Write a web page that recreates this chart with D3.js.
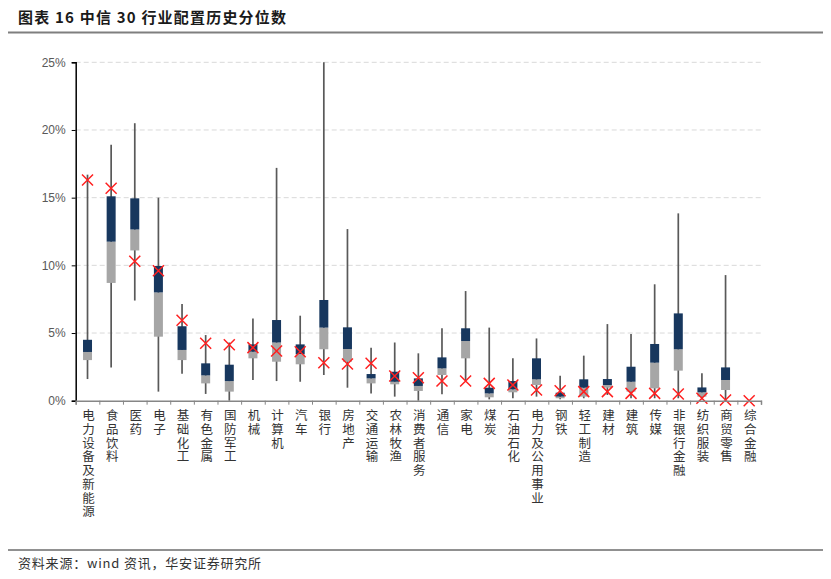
<html>
<head>
<meta charset="utf-8">
<script src="https://d3js.org/d3.v7.min.js"></script>
<style>
body { margin: 0; background: #fff; }
text { font-family: "Liberation Sans", Arial, sans-serif; }
.cjk { font-family: "Noto Sans CJK SC", sans-serif; }
.vlab { writing-mode: vertical-rl; text-orientation: upright; }
</style>
</head>
<body>
<svg width="831" height="579"></svg>
<script>
// industries, left to right
var cats = ["电力设备及新能源","食品饮料","医药","电子","基础化工","有色金属","国防军工","机械","计算机","汽车",
  "银行","房地产","交通运输","农林牧渔","消费者服务","通信","家电","煤炭","石油石化","电力及公用事业",
  "钢铁","轻工制造","建材","建筑","传媒","非银行金融","纺织服装","商贸零售","综合金融"];
// historical allocation stats (%)
var maxV = [16.7,18.9,20.5,15.0,7.15,4.85,4.3,6.08,17.2,6.28,25.0,12.68,3.92,4.3,3.5,5.35,8.1,5.4,3.13,4.6,1.85,3.33,5.66,4.93,8.6,13.84,2.02,9.28,null];
var q3V  = [4.5,15.1,14.95,9.95,5.5,2.76,2.66,4.16,5.96,4.16,7.44,5.42,1.97,2.14,1.65,3.2,5.35,0.96,1.45,3.13,0.59,1.58,1.6,2.51,4.19,6.45,0.98,2.46,null];
var medV = [3.6,11.75,12.65,8.0,3.75,1.87,1.45,3.62,4.3,3.45,5.4,3.82,1.65,1.4,1.09,2.39,4.41,0.54,0.84,1.58,0.3,0.96,1.16,1.4,2.81,3.8,0.62,1.53,null];
var q1V  = [3.0,8.7,11.1,4.73,3.0,1.28,0.67,3.13,2.88,2.69,3.8,2.88,1.28,1.21,0.72,1.9,3.13,0.25,0.62,1.16,0.18,0.3,0.96,0.67,0.91,2.22,0.3,0.79,null];
var minV = [1.6,2.45,7.4,0.67,2.0,0.5,0.0,1.53,1.45,1.4,1.9,0.96,0.54,0.3,0.0,0.47,1.5,0.1,0.18,0.3,0.1,0.18,0.42,0.18,0.18,0.18,0.1,0.1,null];
// current value
var curV = [16.3,15.7,10.3,9.6,5.95,4.24,4.14,3.92,3.67,3.62,2.81,2.71,2.76,1.82,1.7,1.45,1.45,1.28,1.16,0.79,0.74,0.67,0.67,0.54,0.54,0.5,0.18,0.05,0];
var yTicks = [0,5,10,15,20,25];

var svg = d3.select("svg");
var plotL = 75.7, plotR = 761, plotT = 62.3, plotB = 400.7;
var x = d3.scaleBand().domain(cats).range([plotL, plotR]).padding(0);
var xb = d3.scaleLinear().domain([0, cats.length]).range([plotL, plotR]);
var y = d3.scaleLinear().domain([0, 25]).range([plotB, plotT]);
var bw = 9;

// title + rules
svg.append("text").attr("class","cjk").attr("x",18).attr("y",23)
  .style("font-size","15px").style("font-weight","bold").style("letter-spacing","1.2px").attr("fill","#1a1a1a")
  .text("图表 16 中信 30 行业配置历史分位数");
svg.append("line").attr("x1",8).attr("x2",823).attr("y1",32.5).attr("y2",32.5)
  .attr("stroke","#7f7f7f").attr("stroke-width",2);
svg.append("line").attr("x1",8).attr("x2",823).attr("y1",550).attr("y2",550)
  .attr("stroke","#222").attr("stroke-width",1);
svg.append("text").attr("class","cjk").attr("x",18).attr("y",568)
  .style("font-size","13px").style("letter-spacing","0.8px").attr("fill","#333")
  .text("资料来源：wind 资讯，华安证券研究所");

// grid
svg.append("g").selectAll("line").data(yTicks.filter(function(d){ return d > 0; })).enter()
  .append("line")
  .attr("x1", plotL).attr("x2", plotR)
  .attr("y1", function(d){ return y(d); }).attr("y2", function(d){ return y(d); })
  .attr("stroke","#d9d9d9").attr("stroke-dasharray","5,3");

var g = svg.append("g");
for (var i = 0; i < cats.length; i++) {
  var cx = x(cats[i]) + x.bandwidth()/2;
  if (maxV[i] != null) {
    g.append("line").attr("x1",cx).attr("x2",cx)
      .attr("y1",y(maxV[i])).attr("y2",y(minV[i]))
      .attr("stroke","#595959").attr("stroke-width",1.7);
    g.append("rect").attr("x",cx-bw/2).attr("width",bw)
      .attr("y",y(medV[i])).attr("height",y(q1V[i])-y(medV[i]))
      .attr("fill","#a6a6a6");
    g.append("rect").attr("x",cx-bw/2).attr("width",bw)
      .attr("y",y(q3V[i])).attr("height",y(medV[i])-y(q3V[i]))
      .attr("fill","#17375e");
  }
}

// current value markers
var s = 5.5;
for (var i = 0; i < cats.length; i++) {
  var cx = x(cats[i]) + x.bandwidth()/2, cy = y(curV[i]);
  g.append("path")
    .attr("d","M"+(cx-s)+","+(cy-s)+"L"+(cx+s)+","+(cy+s)+"M"+(cx+s)+","+(cy-s)+"L"+(cx-s)+","+(cy+s))
    .attr("stroke","#ff2020").attr("stroke-width",1.5).attr("fill","none");
}

// y axis
var yaxis = d3.axisLeft(y).tickValues(yTicks).tickSize(4).tickPadding(6)
  .tickFormat(function(d){ return d + "%"; });
var ya = svg.append("g").attr("transform","translate("+plotL+",0)").call(yaxis);
ya.select(".domain").attr("stroke","#000").attr("stroke-width",1.5);
ya.selectAll(".tick line").attr("stroke","#000");
ya.selectAll(".tick text").attr("fill","#595959").style("font-size","12px")
  .style("font-family","'Liberation Sans', Arial, sans-serif");

// x axis: ticks at band boundaries
var xaxis = d3.axisBottom(xb).tickValues(d3.range(0, cats.length+1)).tickSize(4).tickFormat("");
var xa = svg.append("g").attr("transform","translate(0,"+plotB+")").call(xaxis);
xa.select(".domain").attr("stroke","#868686").attr("stroke-width",1.5);
xa.selectAll(".tick line").attr("stroke","#868686");

// vertical category labels
svg.append("g").selectAll("text").data(cats).enter()
  .append("text").attr("class","cjk vlab")
  .attr("x", function(d){ return x(d) + x.bandwidth()/2 + 1; })
  .attr("y", 409)
  .style("font-size","12.5px").style("letter-spacing","1.25px").attr("fill","#333")
  .text(function(d){ return d; });
</script>
</body>
</html>
